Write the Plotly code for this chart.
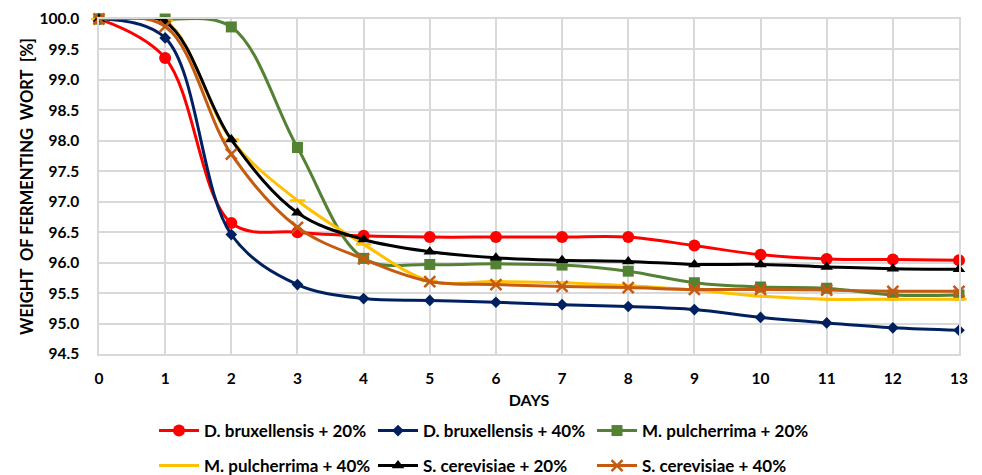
import plotly.graph_objects as go

days = list(range(14))
series_names = [
    "D. bruxellensis + 20%",
    "D. bruxellensis + 40%",
    "M. pulcherrima + 20%",
    "M. pulcherrima + 40%",
    "S. cerevisiae + 20%",
    "S. cerevisiae + 40%",
]
d_brux_20 = [100.0, 99.36, 96.65, 96.50, 96.44, 96.42, 96.42, 96.42, 96.42, 96.28, 96.13, 96.06, 96.05, 96.04]
d_brux_40 = [100.0, 99.69, 96.46, 95.64, 95.41, 95.38, 95.35, 95.31, 95.28, 95.23, 95.10, 95.01, 94.93, 94.89]
m_pulc_20 = [100.0, 100.0, 99.87, 97.89, 96.07, 95.97, 95.98, 95.96, 95.86, 95.67, 95.60, 95.58, 95.47, 95.47]
m_pulc_40 = [100.0, 99.97, 98.02, 97.02, 96.30, 95.70, 95.69, 95.67, 95.62, 95.55, 95.45, 95.40, 95.40, 95.40]
s_cere_20 = [100.0, 99.95, 98.02, 96.82, 96.38, 96.18, 96.08, 96.04, 96.02, 95.97, 95.97, 95.93, 95.90, 95.89]
s_cere_40 = [100.0, 99.88, 97.78, 96.58, 96.06, 95.69, 95.64, 95.61, 95.59, 95.56, 95.56, 95.55, 95.53, 95.53]

all_values = [d_brux_20, d_brux_40, m_pulc_20, m_pulc_40, s_cere_20, s_cere_40]
colors = ["#FF0000", "#002060", "#548235", "#FFC000", "#000000", "#C55A11"]
symbols = ["circle", "diamond", "square", "line-ew", "triangle-up", "x-thin"]
sizes = [12, 9, 11, 11, 11, 11]

FONT = "Lato"

fig = go.Figure()
for i, (name, vals) in enumerate(zip(series_names, all_values)):
    sym = symbols[i]
    if sym in ("line-ew", "x-thin"):
        marker = dict(symbol=sym, size=sizes[i], color=colors[i],
                      line=dict(color=colors[i], width=2.5))
    else:
        marker = dict(symbol=sym, size=sizes[i], color=colors[i],
                      line=dict(width=0))
    fig.add_trace(go.Scatter(
        x=days, y=vals, name=name, mode="lines+markers",
        line=dict(color=colors[i], width=3, shape="spline", smoothing=1.0),
        marker=marker, cliponaxis=False,
        legend="legend" if i < 3 else "legend2",
    ))

legend_common = dict(
    orientation="h", xref="container", yref="container", xanchor="left", yanchor="middle",
    font=dict(family=FONT, size=17, color="#000000", weight="bold"),
    entrywidth=164, entrywidthmode="pixels", bgcolor="rgba(0,0,0,0)",
    itemwidth=40,
)

fig.update_layout(
    width=982, height=475,
    margin=dict(l=99, r=23, t=19, b=121, autoexpand=False),
    paper_bgcolor="white", plot_bgcolor="white",
    font=dict(family=FONT, size=16, color="#000000"),
    showlegend=True,
    legend=dict(**legend_common, x=154 / 982, y=1 - 431 / 475),
    legend2=dict(**legend_common, x=154 / 982, y=1 - 466 / 475),
    xaxis=dict(
        range=[0, 13], dtick=1, tick0=0,
        showgrid=True, gridcolor="#D9D9D9", gridwidth=1.5,
        showline=True, linecolor="#D9D9D9", linewidth=1.5, mirror=True,
        zeroline=False, ticks="", ticklabelstandoff=10,
        tickfont=dict(family=FONT, size=15.5, color="#000000", weight="bold"),
        title=dict(text="DAYS", font=dict(family=FONT, size=16, color="#000000", weight="bold"), standoff=8),
    ),
    yaxis=dict(
        range=[94.5, 100], dtick=0.5, tick0=94.5, tickformat=".1f",
        showgrid=True, gridcolor="#D9D9D9", gridwidth=1.5,
        showline=True, linecolor="#D9D9D9", linewidth=1.5, mirror=True,
        zeroline=False, ticks="outside", ticklen=15, tickcolor="rgba(0,0,0,0)",
        tickfont=dict(family=FONT, size=15.5, color="#000000", weight="bold"),
        title=dict(text="WEIGHT  OF FERMENTING  WORT  [%]",
                   font=dict(family=FONT, size=16.5, color="#000000", weight="bold"), standoff=2),
    ),
)

fig.write_html("out.html")
